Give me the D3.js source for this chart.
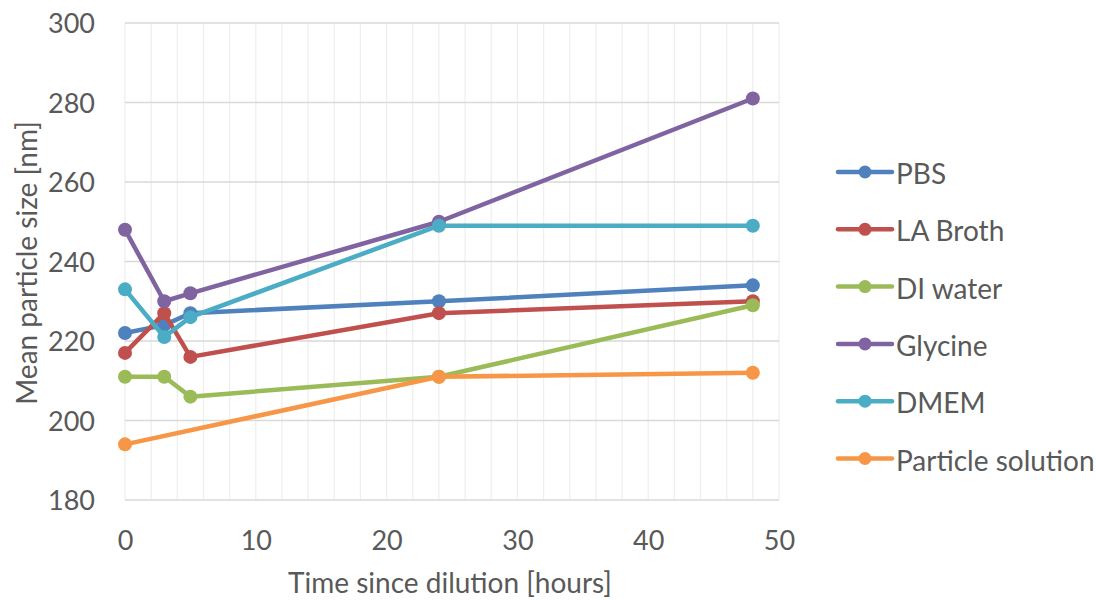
<!DOCTYPE html>
<html>
<head>
<meta charset="utf-8">
<script src="https://cdn.jsdelivr.net/npm/d3@7"></script>
<style>
  html, body { margin: 0; padding: 0; background: #fff; }
  svg { display: block; }
  text { font-family: Lato, "Open Sans", sans-serif; fill: #595959; }
</style>
</head>
<body>
<svg id="chart" width="1096" height="600"></svg>
<script>
// Sampling times (hours)
const times = [0, 3, 5, 24, 48];
const seriesNames = ["PBS", "LA Broth", "DI water", "Glycine", "DMEM", "Particle solution"];
const seriesColors = ["#4F81BD", "#C0504D", "#9BBB59", "#8064A2", "#4BACC6", "#F79646"];

// Mean particle size [nm] per series
const pbs      = [222, 224, 227, 230, 234];
const laBroth  = [217, 227, 216, 227, 230];
const diWater  = [211, 211, 206, 211, 229];
const glycine  = [248, 230, 232, 250, 281];
const dmem     = [233, 221, 226, 249, 249];
const particleTimes = [0, 24, 48];
const particle = [194, 211, 212];

const xTicks = [0, 10, 20, 30, 40, 50];
const yTicks = [180, 200, 220, 240, 260, 280, 300];

const series = [
  { name: seriesNames[0], color: seriesColors[0], xs: times, ys: pbs },
  { name: seriesNames[1], color: seriesColors[1], xs: times, ys: laBroth },
  { name: seriesNames[2], color: seriesColors[2], xs: times, ys: diWater },
  { name: seriesNames[3], color: seriesColors[3], xs: times, ys: glycine },
  { name: seriesNames[4], color: seriesColors[4], xs: times, ys: dmem },
  { name: seriesNames[5], color: seriesColors[5], xs: particleTimes, ys: particle }
];

const svg = d3.select("#chart");
const plot = { left: 125, right: 779, top: 23, bottom: 500 };

const x = d3.scaleLinear().domain([0, 50]).range([plot.left, plot.right]);
const y = d3.scaleLinear().domain([180, 300]).range([plot.bottom, plot.top]);

// Minor vertical gridlines every 2 hours
const grid = svg.append("g");
grid.selectAll("line.vx")
  .data(d3.range(0, 50.001, 2))
  .join("line")
  .attr("x1", d => x(d)).attr("x2", d => x(d))
  .attr("y1", plot.top).attr("y2", plot.bottom)
  .attr("stroke", "#efefef").attr("stroke-width", 1.3);

// Major horizontal gridlines
grid.selectAll("line.hy")
  .data(yTicks)
  .join("line")
  .attr("x1", plot.left).attr("x2", plot.right)
  .attr("y1", d => y(d)).attr("y2", d => y(d))
  .attr("stroke", "#d9d9d9").attr("stroke-width", 1.3);

// Axes (tick labels only)
const xAxis = svg.append("g")
  .attr("transform", `translate(0,${plot.bottom})`)
  .call(d3.axisBottom(x).tickValues(xTicks).tickSize(0).tickPadding(31));
xAxis.select(".domain").remove();
xAxis.selectAll("text").style("font-size", "27px").attr("fill", "#595959");

const yAxis = svg.append("g")
  .attr("transform", `translate(${plot.left},0)`)
  .call(d3.axisLeft(y).tickValues(yTicks).tickSize(0).tickPadding(30));
yAxis.select(".domain").remove();
yAxis.selectAll("text").style("font-size", "27px").attr("fill", "#595959").attr("dy", "0.36em");

// Axis titles
svg.append("text")
  .attr("x", 450).attr("y", 593)
  .attr("text-anchor", "middle")
  .style("font-size", "28px")
  .text("Time since dilution [hours]");

svg.append("text")
  .attr("transform", `translate(37,263) rotate(-90)`)
  .attr("text-anchor", "middle")
  .style("font-size", "28px")
  .text("Mean particle size [nm]");

// Series lines and markers
const line = d3.line().x(d => x(d[0])).y(d => y(d[1]));
const marks = svg.append("g");
series.forEach(s => {
  const pts = s.xs.map((t, i) => [t, s.ys[i]]);
  const g = marks.append("g");
  g.append("path")
    .attr("d", line(pts))
    .attr("fill", "none")
    .attr("stroke", s.color)
    .attr("stroke-width", 4.5)
    .attr("stroke-linejoin", "round")
    .attr("stroke-linecap", "round");
  g.selectAll("circle")
    .data(pts)
    .join("circle")
    .attr("cx", d => x(d[0])).attr("cy", d => y(d[1]))
    .attr("r", 7)
    .attr("fill", s.color);
});

// Legend
const legend = svg.append("g").attr("transform", "translate(838,172)");
const rowH = 57.3;
series.forEach((s, i) => {
  const row = legend.append("g").attr("transform", `translate(0,${i * rowH})`);
  row.append("line")
    .attr("x1", 0).attr("x2", 54).attr("y1", 0).attr("y2", 0)
    .attr("stroke", s.color).attr("stroke-width", 4.5)
    .attr("stroke-linecap", "round");
  row.append("circle").attr("cx", 27).attr("cy", 0).attr("r", 6.5).attr("fill", s.color);
  row.append("text")
    .attr("x", 58).attr("y", 0).attr("dy", "0.43em")
    .style("font-size", "28px")
    .text(s.name);
});
</script>
</body>
</html>
